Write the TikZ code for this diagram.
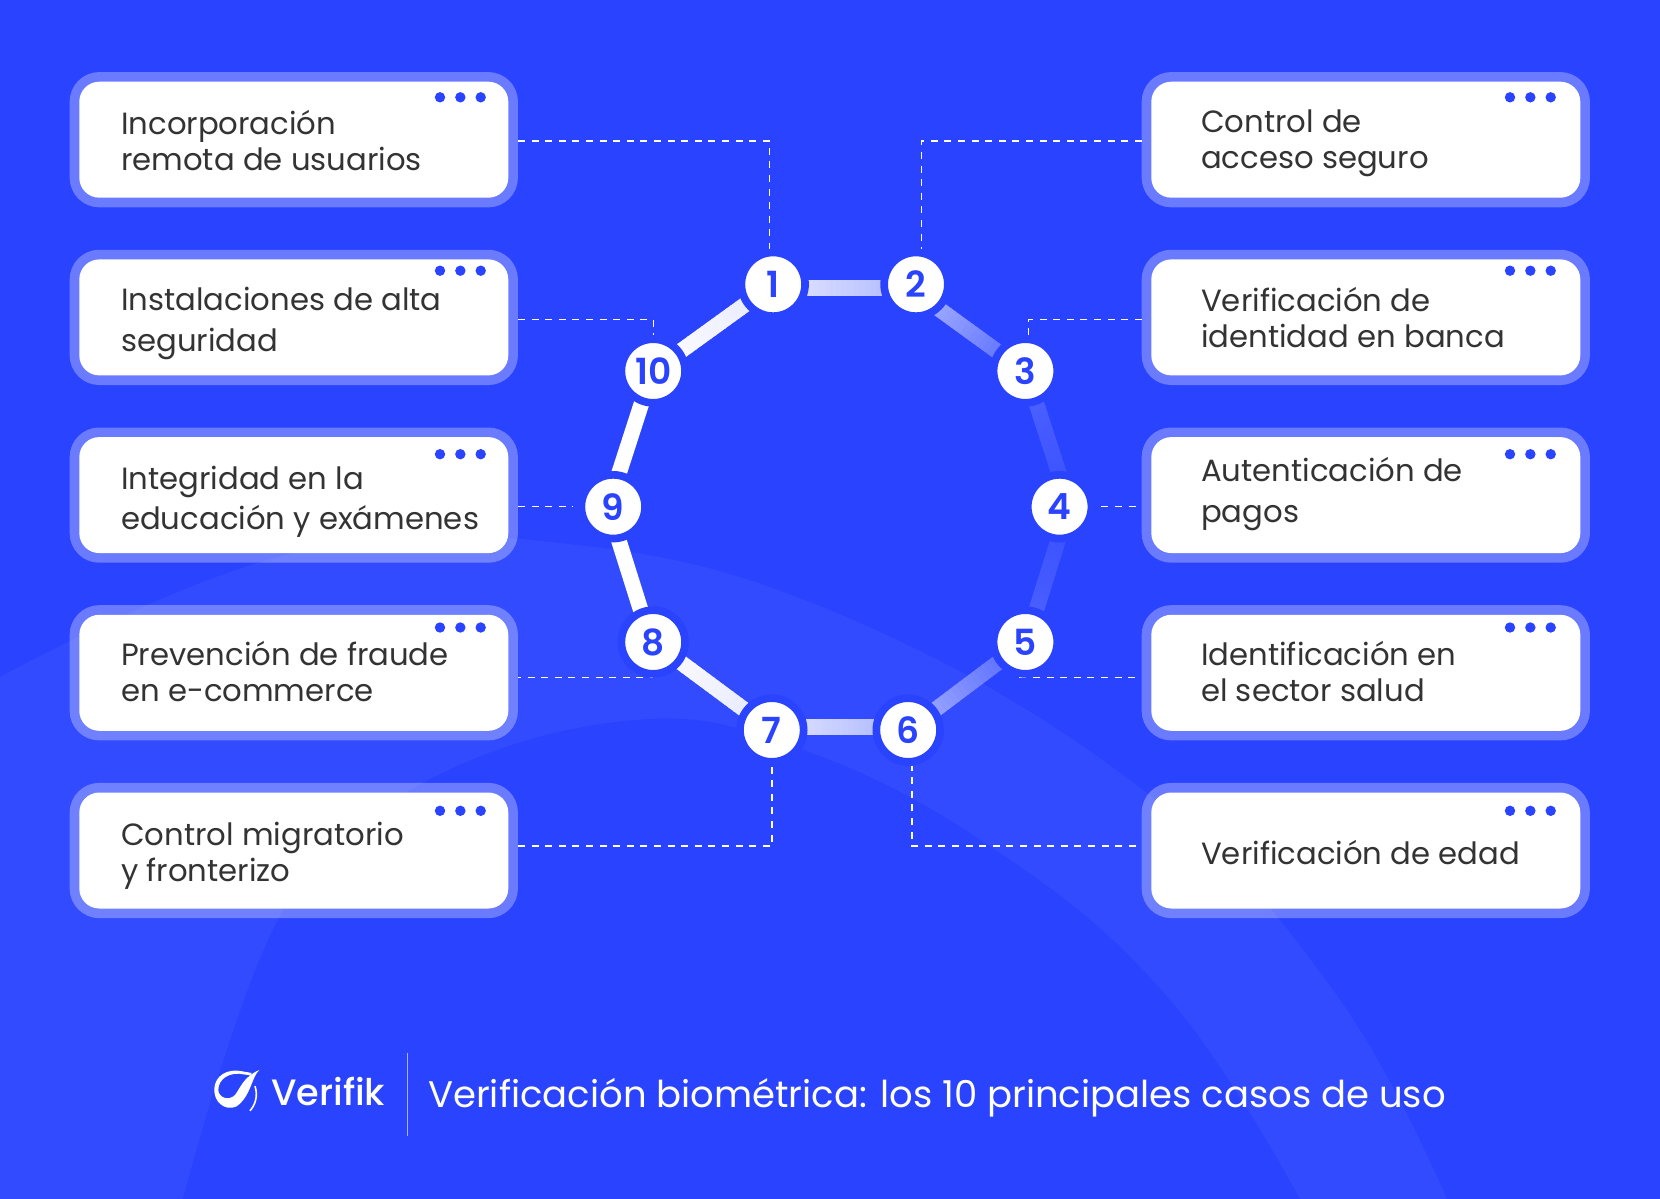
\documentclass[tikz,border=0pt]{standalone}
\usepackage{fontspec}
\setmainfont{Poppins}
\newfontfamily\numfont{Poppins SemiBold}
\newfontfamily\brandfont{Poppins Medium}
\usetikzlibrary{calc}
\definecolor{bgblue}{HTML}{2A43FF}
\definecolor{bandblue}{HTML}{324BFF}
\definecolor{dotblue}{HTML}{2A43FF}
\definecolor{textgrey}{HTML}{333333}
\definecolor{sepblue}{HTML}{A9B4FF}
\definecolor{stopb}{HTML}{E4E7FF}
\definecolor{stopc}{HTML}{AAB5FF}
\definecolor{stopd}{HTML}{4F64FF}
\definecolor{stope}{HTML}{374EFF}
\pgfdeclarelayer{backdrop}
\pgfdeclarelayer{links}
\pgfsetlayers{backdrop,links,main}
\tikzset{
  numnode/.style={circle, fill=white, draw=bgblue, line width=7.7pt, minimum size=63.7pt, inner sep=0pt,
    text=dotblue, font=\numfont\fontsize{36}{36}\selectfont},
  boxcard/.style={rectangle, rounded corners=20pt, fill=white, minimum width=429pt, minimum height=116pt,
    inner sep=0pt, outer sep=9.6pt, preaction={draw=white, draw opacity=.3, line width=19.2pt}},
  boxlabel/.style={anchor=base west, align=left, inner sep=0pt, text=textgrey,
    font=\fontsize{30.7}{36}\selectfont},
  dashlink/.style={white, line width=1.4pt, dash pattern=on 7pt off 6.6pt},
}
% gradient bar between two number nodes
\newcommand{\linkbar}[4]{
  \foreach \k in {0,...,24}{
    \pgfmathtruncatemacro{\pc}{\k*4}
    \draw[line width=15.5pt, draw=#4!\pc!#3]
      ($#1!\k/25!#2$) -- ($#1!{(\k+1.2)/25}!#2$);
  }
}
% three dots of a card, x of the first one, y
\newcommand{\carddots}[2]{
  \foreach \dx in {0,20.35,40.7}
    \fill[dotblue] (#1+\dx,#2) circle (5.2);
}
\begin{document}
\begin{tikzpicture}[x=1pt,y=-1pt]
\useasboundingbox (0,0) rectangle (1660,1199);
\begin{pgfonlayer}{backdrop}
  \fill[bgblue] (0,0) rectangle (1660,1199);
  \fill[bandblue] plot[smooth,tension=.7] coordinates {(0,677) (283,556) (560,543) (846,617) (1147,793) (1333,990) (1447,1199)} -- (0,1199) -- cycle;
  \fill[bgblue] plot[smooth,tension=.7] coordinates {(183,1199) (280,916) (410,790) (625,721) (803,750) (1000,853) (1170,1000) (1300,1199)} -- cycle;
\end{pgfonlayer}

% cards
\node[boxcard] (boxa) at (293.8,139.7) {};
\node[boxcard] (boxb) at (293.8,317.4) {};
\node[boxcard] (boxc) at (293.8,495.1) {};
\node[boxcard] (boxd) at (293.8,672.8) {};
\node[boxcard] (boxe) at (293.8,850.5) {};
\node[boxcard] (boxf) at (1365.8,139.7) {};
\node[boxcard] (boxg) at (1365.8,317.4) {};
\node[boxcard] (boxh) at (1365.8,495.1) {};
\node[boxcard] (boxi) at (1365.8,672.8) {};
\node[boxcard] (boxj) at (1365.8,850.5) {};

\foreach \ydot in {97.3,270.7,454.2,627.5,810.8}{
  \carddots{440}{\ydot}
  \carddots{1510}{\ydot}
}

\node[boxlabel] (la) at (121,170) {Incorporación\\remota de usuarios};
\node[boxlabel] (lb) at (121,351.8) {Instalaciones de alta\\[5pt]seguridad};
\node[boxlabel] (lc) at (121,529) {Integridad en la\\[4pt]educación y exámenes};
\node[boxlabel] (ld) at (121,701.5) {Prevención de fraude\\en e-commerce};
\node[boxlabel] (le) at (121,881.7) {Control migratorio\\y fronterizo};
\node[boxlabel] (lf) at (1201,168.7) {Control de\\acceso seguro};
\node[boxlabel] (lg) at (1201,347.7) {Verificación de\\identidad en banca};
\node[boxlabel] (lh) at (1201,522) {Autenticación de\\[5pt]pagos};
\node[boxlabel] (li) at (1201,701) {Identificación en\\el sector salud};
\node[boxlabel] (lj) at (1201,864.3) {Verificación de edad};

% number ring
\node[numnode] (n1) at (773.2,284.3) {1};
\node[numnode] (n2) at (916,284.3) {2};
\node[numnode] (n3) at (1025.4,371) {3};
\node[numnode] (n4) at (1059.6,506.7) {4};
\node[numnode] (n5) at (1025.4,642) {5};
\node[numnode] (n6) at (908.2,730) {6};
\node[numnode] (n7) at (771.8,730) {7};
\node[numnode] (n8) at (653.2,642) {8};
\node[numnode] (n9) at (613.2,506.7) {9};
\node[numnode] (n10) at (653.2,371) {10};

\begin{pgfonlayer}{links}
  \linkbar{(n10.center)}{(n1.center)}{white}{stopb}
  \linkbar{([yshift=-3.7pt]n1.center)}{([yshift=-3.7pt]n2.center)}{stopb}{stopc}
  \linkbar{([yshift=-8pt]n2.center)}{([yshift=-.8pt]n3.center)}{stopc}{stopd}
  \linkbar{([xshift=.4pt]n3.center)}{([xshift=10.2pt]n4.center)}{stopd}{stope}
  \linkbar{([xshift=8.9pt]n4.center)}{([xshift=.9pt]n5.center)}{stope}{stopd}
  \linkbar{(n5.center)}{(n6.center)}{stopd}{stopc}
  \linkbar{([yshift=3pt]n6.center)}{([yshift=3pt]n7.center)}{stopc}{stopb}
  \linkbar{(n7.center)}{(n8.center)}{stopb}{white}
  \draw[line width=15.5pt, white] ([xshift=-2.4pt]n8.center) -- ([xshift=-5pt]n9.center);
  \draw[line width=15.5pt, white] ([xshift=-5pt]n9.center) -- ([xshift=-1.2pt]n10.center);

  % dashed leaders
  \coordinate (c1) at (769.6,141);
  \coordinate (c2) at (921.4,141);
  \coordinate (c10) at (653.6,319.3);
  \coordinate (c3) at (1028.2,319.3);
  \coordinate (c7) at (771.8,846);
  \coordinate (c6) at (912,846);
  \draw[dashlink] (boxa.east |- c1) -- (c1) -- (c1 |- n1.north);
  \draw[dashlink] (boxf.west |- c2) -- (c2) -- (c2 |- n2.north);
  \draw[dashlink] (boxb.east |- c10) -- (c10) -- (c10 |- n10.north);
  \draw[dashlink] (boxg.west |- c3) -- (c3) -- (c3 |- n3.north);
  \draw[dashlink] (boxc.east |- n9) -- ([xshift=-5pt]n9.west);
  \draw[dashlink] ([xshift=6pt]n4.east) -- (boxh.west |- n4);
  \draw[dashlink, dash phase=4pt] (boxd.east |- n8.south) -- (n8.south);
  \draw[dashlink] ([xshift=-6pt]n5.south) -- ([xshift=-6pt]boxi.west |- n5.south);
  \draw[dashlink] (boxe.east |- c7) -- (c7) -- (c7 |- n7.south);
  \draw[dashlink] ([xshift=-6pt]boxj.west |- c6) -- (c6) -- (c6 |- n6.south);
\end{pgfonlayer}

% logo and title
\begin{scope}[shift={(205,1053.9)},x=.3333pt,y=-.3667pt]
  \fill[white] (163,44) .. controls (140,62) and (138,115) .. (95,143)
    .. controls (60,158) and (25,130) .. (28,95)
    .. controls (30,60) and (65,38) .. (115,48)
    -- (140,52) -- (135,58) -- (118,56)
    .. controls (75,47) and (40,68) .. (40,98)
    .. controls (40,118) and (70,130) .. (90,112)
    .. controls (105,95) and (115,62) .. (163,44) -- cycle;
  \draw[white, line width=1.6pt] (150,88) .. controls (160,115) and (150,140) .. (135,155);
\end{scope}
\node[anchor=base west, inner sep=0pt, text=white, font=\brandfont\fontsize{36.7}{37}\selectfont] (brand) at (271,1105) {Verifik};
\coordinate (sept) at (407.7,1052.7);
\coordinate (sepb) at (407.7,1136);
\draw[sepblue, line width=1.5pt] (sept) -- (sepb);
\node[anchor=base west, inner sep=0pt, text=white, font=\fontsize{37}{37}\selectfont] (title) at (428,1107.3) {Verificación biométrica: los 10 principales casos de uso};
\end{tikzpicture}
\end{document}
